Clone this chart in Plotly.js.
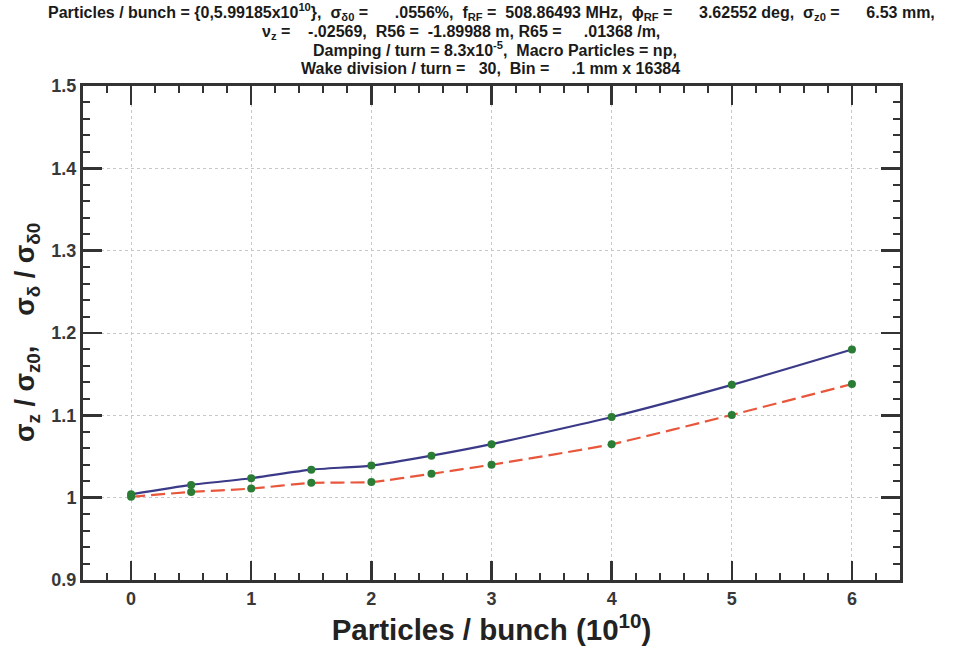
<!DOCTYPE html>
<html><head><meta charset="utf-8">
<script src="https://cdn.plot.ly/plotly-3.0.1.min.js"></script>
<style>html,body{margin:0;padding:0;background:#fff}</style>
</head><body>
<div id="chart" style="width:961px;height:653px"></div>
<script>
const particles = [0, 0.5, 1, 1.5, 2, 2.5, 3, 4, 5, 6];
const sigmaZ     = [1.004, 1.0155, 1.0236, 1.034, 1.039, 1.051, 1.065, 1.098, 1.137, 1.180];
const sigmaDelta = [1.001, 1.007, 1.011, 1.018, 1.019, 1.029, 1.040, 1.065, 1.1005, 1.138];
const xTicks = [0, 1, 2, 3, 4, 5, 6];
const yTicks = [0.9, 1, 1.1, 1.2, 1.3, 1.4, 1.5];
const yTickText = ['0.9', '1', '1.1', '1.2', '1.3', '1.4', '1.5'];

const NB = '\u00a0';
const titleLines = [
  'Particles / bunch = {0,5.99185x10<sup>10</sup>},  σ<sub>δ0</sub> =' + NB.repeat(6) + '.0556%,  f<sub>RF</sub> =  508.86493 MHz,  ϕ<sub>RF</sub> =' + NB.repeat(6) + '3.62552 deg,  σ<sub>z0</sub> =' + NB.repeat(6) + '6.53 mm,',
  'ν<sub>z</sub> =' + NB.repeat(4) + '-.02569,  R56 =  -1.89988 m, R65 =' + NB.repeat(5) + '.01368 /m,',
  'Damping / turn = 8.3x10<sup>-5</sup>,  Macro Particles = np,',
  'Wake division / turn =' + NB.repeat(3) + '30,  Bin =' + NB.repeat(5) + '.1 mm x 16384'
].map(s => s.replace(/  /g, NB + NB));
const titleY = [1.1498, 1.1093, 1.0739, 1.0364];
const titleX = [0.4994, 0.4627, 0.5043, 0.4982];

const traces = [
  {x: particles, y: sigmaZ, mode: 'lines+markers', type: 'scatter',
   line: {color: '#3b3a88', width: 2.2, shape: 'spline', smoothing: 0.6},
   marker: {color: '#2b7d35', size: 8}},
  {x: particles, y: sigmaDelta, mode: 'lines+markers', type: 'scatter',
   line: {color: '#e8573c', width: 2.2, dash: '14px,6px', shape: 'spline', smoothing: 0.6},
   marker: {color: '#2b7d35', size: 8}}
];

const axisCommon = {
  showline: true, linecolor: '#333', linewidth: 3, mirror: 'ticks',
  ticks: 'inside', ticklen: 19, tickwidth: 2.5, tickcolor: '#333',
  showgrid: true, gridcolor: '#c8c8c8', griddash: 'dot', gridwidth: 1,
  zeroline: false,
  tickfont: {family: 'Liberation Sans, Arial, sans-serif', size: 18, color: '#383838', weight: 'bold'}
};

const annFont = {family: 'Liberation Sans, Arial, sans-serif', size: 16, color: '#1a1a1a', weight: 'bold'};
const annotations = titleLines.map((t, i) => ({
  xref: 'paper', yref: 'paper', x: titleX[i], y: titleY[i], xanchor: 'center', yanchor: 'middle',
  showarrow: false, text: t, font: annFont
}));
annotations.push({
  xref: 'paper', yref: 'paper', x: -0.0685, y: 0.5, xanchor: 'center', yanchor: 'middle',
  textangle: -90, showarrow: false,
  text: 'σ<sub>z</sub> / σ<sub>z0</sub>,' + NB.repeat(4) + 'σ<sub>δ</sub> / σ<sub>δ0</sub>',
  font: {family: 'Liberation Sans, Arial, sans-serif', size: 27, color: '#222', weight: 'bold'}
});

const layout = {
  width: 961, height: 653,
  margin: {l: 83, r: 61, t: 86, b: 73},
  paper_bgcolor: '#fff', plot_bgcolor: '#fff',
  showlegend: false,
  xaxis: Object.assign({}, axisCommon, {
    range: [-0.4, 6.4], tickvals: xTicks, ticktext: xTicks.map(String),
    minor: {dtick: 0.2, tick0: 0, ticks: 'inside', ticklen: 7, tickwidth: 2, tickcolor: '#333', showgrid: false},
    title: {text: 'Particles / bunch (10<sup>10</sup>)', standoff: 12,
            font: {family: 'Liberation Sans, Arial, sans-serif', size: 29.5, color: '#222', weight: 'bold'}}
  }),
  yaxis: Object.assign({}, axisCommon, {
    range: [0.9, 1.5], tickvals: yTicks, ticktext: yTickText,
    minor: {dtick: 0.02, tick0: 0.9, ticks: 'inside', ticklen: 7, tickwidth: 2, tickcolor: '#333', showgrid: false}
  }),
  annotations: annotations
};

Plotly.newPlot('chart', traces, layout, {displayModeBar: false, staticPlot: true});
</script>
</body></html>
